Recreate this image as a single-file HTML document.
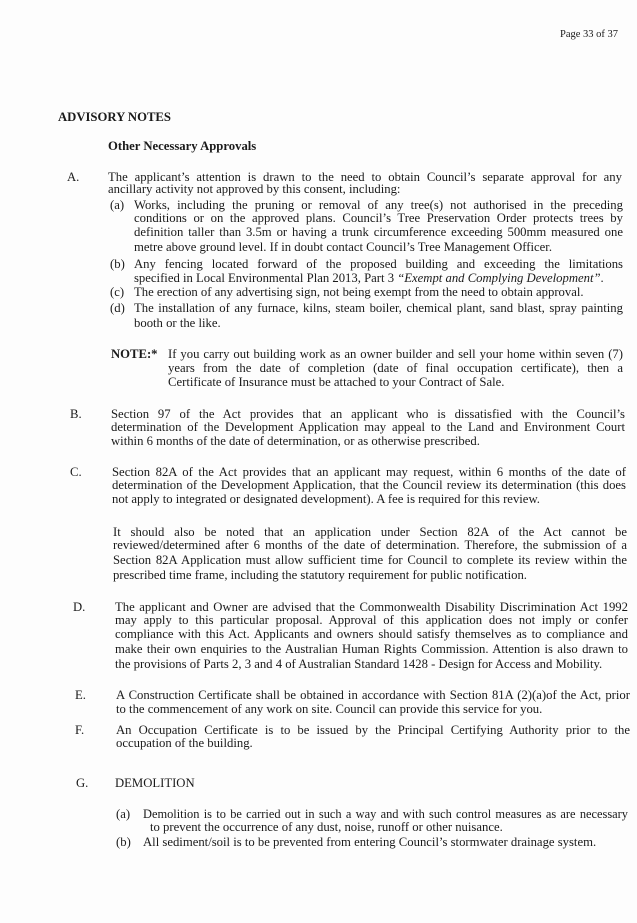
<!DOCTYPE html>
<html><head><meta charset="utf-8">
<style>
body{margin:0;background:#fff;}
#p{position:relative;width:637px;height:923px;background:#fdfdfd;overflow:hidden;font-family:"Liberation Serif",serif;font-size:12.7px;color:#1a1a1a;}
.l{position:absolute;white-space:nowrap;line-height:15px;}
.j{text-align:justify;text-align-last:justify;white-space:normal;height:15px;overflow:visible;}
b{font-weight:bold;}
</style></head><body><div id="p">
<div class="l" style="left:560px;top:27px;font-size:10.5px">Page 33 of 37</div>
<div class="l" style="left:58px;top:110px"><b>ADVISORY NOTES</b></div>
<div class="l" style="left:108px;top:139px"><b>Other Necessary Approvals</b></div>

<div class="l" style="left:67px;top:170px">A.</div>
<div class="l j" style="left:108px;top:170px;width:514px">The applicant’s attention is drawn to the need to obtain Council’s separate approval for any</div>
<div class="l" style="left:108px;top:182px">ancillary activity not approved by this consent, including:</div>
<div class="l" style="left:110px;top:198px">(a)</div>
<div class="l j" style="left:134px;top:198px;width:489px">Works, including the pruning or removal of any tree(s) not authorised in the preceding</div>
<div class="l j" style="left:134px;top:211px;width:489px">conditions or on the approved plans. Council’s Tree Preservation Order protects trees by</div>
<div class="l j" style="left:134px;top:225px;width:489px">definition taller than 3.5m or having a trunk circumference exceeding 500mm measured one</div>
<div class="l" style="left:134px;top:240px">metre above ground level. If in doubt contact Council’s Tree Management Officer.</div>
<div class="l" style="left:110px;top:257px">(b)</div>
<div class="l j" style="left:134px;top:257px;width:489px">Any fencing located forward of the proposed building and exceeding the limitations</div>
<div class="l" style="left:134px;top:271px">specified in Local Environmental Plan 2013, Part 3 <i>“Exempt and Complying Development”</i>.</div>
<div class="l" style="left:110px;top:285px">(c)</div>
<div class="l" style="left:134px;top:285px">The erection of any advertising sign, not being exempt from the need to obtain approval.</div>
<div class="l" style="left:110px;top:301px">(d)</div>
<div class="l j" style="left:134px;top:301px;width:489px">The installation of any furnace, kilns, steam boiler, chemical plant, sand blast, spray painting</div>
<div class="l" style="left:134px;top:316px">booth or the like.</div>

<div class="l" style="left:111px;top:347px"><b>NOTE:*</b></div>
<div class="l j" style="left:168px;top:347px;width:455px">If you carry out building work as an owner builder and sell your home within seven (7)</div>
<div class="l j" style="left:168px;top:361px;width:455px">years from the date of completion (date of final occupation certificate), then a</div>
<div class="l" style="left:168px;top:375px">Certificate of Insurance must be attached to your Contract of Sale.</div>

<div class="l" style="left:70px;top:407px">B.</div>
<div class="l j" style="left:111px;top:407px;width:514px">Section 97 of the Act provides that an applicant who is dissatisfied with the Council’s</div>
<div class="l j" style="left:111px;top:420px;width:514px">determination of the Development Application may appeal to the Land and Environment Court</div>
<div class="l" style="left:111px;top:434px">within 6 months of the date of determination, or as otherwise prescribed.</div>

<div class="l" style="left:70px;top:465px">C.</div>
<div class="l j" style="left:112px;top:465px;width:514px">Section 82A of the Act provides that an applicant may request, within 6 months of the date of</div>
<div class="l j" style="left:112px;top:478px;width:514px">determination of the Development Application, that the Council review its determination (this does</div>
<div class="l" style="left:112px;top:492px">not apply to integrated or designated development). A fee is required for this review.</div>
<div class="l j" style="left:113px;top:525px;width:514px">It should also be noted that an application under Section 82A of the Act cannot be</div>
<div class="l j" style="left:113px;top:538px;width:514px">reviewed/determined after 6 months of the date of determination. Therefore, the submission of a</div>
<div class="l j" style="left:113px;top:553px;width:514px">Section 82A Application must allow sufficient time for Council to complete its review within the</div>
<div class="l" style="left:113px;top:568px">prescribed time frame, including the statutory requirement for public notification.</div>

<div class="l" style="left:73px;top:600px">D.</div>
<div class="l j" style="left:115px;top:600px;width:513px">The applicant and Owner are advised that the Commonwealth Disability Discrimination Act 1992</div>
<div class="l j" style="left:115px;top:613px;width:513px">may apply to this particular proposal. Approval of this application does not imply or confer</div>
<div class="l j" style="left:115px;top:627px;width:513px">compliance with this Act. Applicants and owners should satisfy themselves as to compliance and</div>
<div class="l j" style="left:115px;top:642px;width:513px">make their own enquiries to the Australian Human Rights Commission. Attention is also drawn to</div>
<div class="l" style="left:115px;top:657px">the provisions of Parts 2, 3 and 4 of Australian Standard 1428 - Design for Access and Mobility.</div>

<div class="l" style="left:75px;top:688px">E.</div>
<div class="l j" style="left:116px;top:688px;width:514px">A Construction Certificate shall be obtained in accordance with Section 81A (2)(a)of the Act, prior</div>
<div class="l" style="left:116px;top:702px">to the commencement of any work on site. Council can provide this service for you.</div>

<div class="l" style="left:75px;top:723px">F.</div>
<div class="l j" style="left:116px;top:723px;width:514px">An Occupation Certificate is to be issued by the Principal Certifying Authority prior to the</div>
<div class="l" style="left:116px;top:736px">occupation of the building.</div>

<div class="l" style="left:76px;top:776px">G.</div>
<div class="l" style="left:115px;top:776px">DEMOLITION</div>
<div class="l" style="left:116px;top:807px">(a)</div>
<div class="l j" style="left:143px;top:807px;width:485px;font-size:12.4px">Demolition is to be carried out in such a way and with such control measures as are necessary</div>
<div class="l" style="left:150px;top:820px">to prevent the occurrence of any dust, noise, runoff or other nuisance.</div>
<div class="l" style="left:116px;top:835px">(b)</div>
<div class="l" style="left:143px;top:835px">All sediment/soil is to be prevented from entering Council’s stormwater drainage system.</div>
</div></body></html>
